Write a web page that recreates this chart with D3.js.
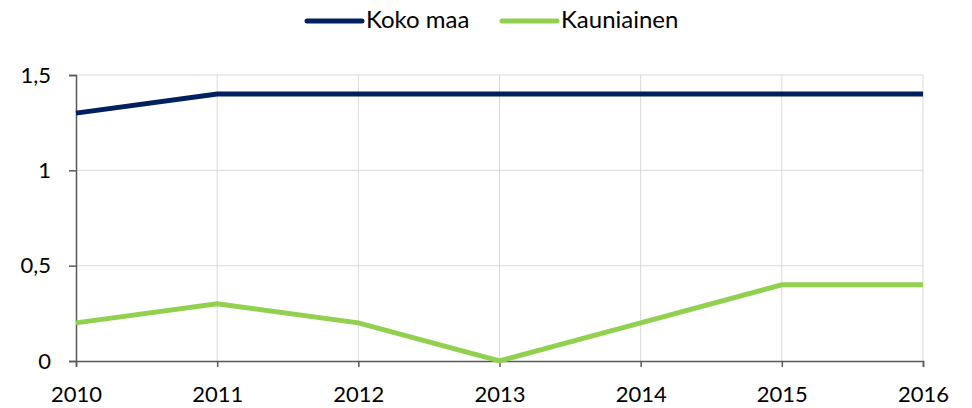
<!DOCTYPE html>
<html>
<head>
<meta charset="utf-8">
<script src="https://cdn.jsdelivr.net/npm/d3@7"></script>
<style>
  body { margin: 0; background: #fff; }
  svg { display: block; font-family: Lato, "Open Sans", sans-serif; }
</style>
</head>
<body>
<div id="chart"></div>
<script>
// data
const years = [2010, 2011, 2012, 2013, 2014, 2015, 2016];
const kokoMaa = [1.3, 1.4, 1.4, 1.4, 1.4, 1.4, 1.4];
const kauniainen = [0.2, 0.3, 0.2, 0.0, 0.2, 0.4, 0.4];
const yTicks = [0, 0.5, 1, 1.5];
const seriesNames = ["Koko maa", "Kauniainen"];
const colors = ["#002060", "#92d050"];

const width = 972, height = 408;
const margin = {top: 75, right: 49, bottom: 47, left: 76};

const svg = d3.select("#chart").append("svg")
    .attr("width", width)
    .attr("height", height);

const x = d3.scalePoint().domain(years).range([margin.left, width - margin.right]);
const y = d3.scaleLinear().domain([0, 1.5]).range([height - margin.bottom, margin.top]);

const fmt = d => String(d).replace(".", ",");

// gridlines
svg.append("g").selectAll("line").data(yTicks.filter(d => d > 0)).join("line")
    .attr("x1", margin.left).attr("x2", width - margin.right)
    .attr("y1", d => y(d)).attr("y2", d => y(d))
    .attr("stroke", "#d9d9d9").attr("stroke-width", 1);
svg.append("g").selectAll("line").data(years.slice(1)).join("line")
    .attr("x1", d => x(d)).attr("x2", d => x(d))
    .attr("y1", y(1.5)).attr("y2", y(0))
    .attr("stroke", "#d9d9d9").attr("stroke-width", 1);

// axes
const yAxis = svg.append("g")
    .attr("transform", `translate(${margin.left},0)`)
    .call(d3.axisLeft(y).tickValues(yTicks).tickFormat(fmt).tickSize(7));
yAxis.selectAll(".tick text").attr("x", -25).attr("dy", null).attr("y", 7);
const xAxis = svg.append("g")
    .attr("transform", `translate(0,${y(0)})`)
    .call(d3.axisBottom(x).tickSize(6));
xAxis.selectAll(".tick text").attr("dy", null).attr("y", 41);
[yAxis, xAxis].forEach(a => {
  a.select(".domain").attr("stroke", "#595959").attr("stroke-width", 1.5);
  a.selectAll(".tick line").attr("stroke", "#595959").attr("stroke-width", 1.5);
  a.selectAll("text").attr("font-size", 22).attr("fill", "#000")
    .attr("font-family", "Lato, 'Open Sans', sans-serif");
});

// lines
const line = d3.line().x((d, i) => x(years[i])).y(d => y(d));
[kokoMaa, kauniainen].forEach((s, i) => {
  svg.append("path").datum(s)
    .attr("fill", "none")
    .attr("stroke", colors[i])
    .attr("stroke-width", 5)
    .attr("d", line);
});

// legend
const legendX = [307, 502];
const legend = svg.append("g");
seriesNames.forEach((n, i) => {
  legend.append("line")
    .attr("x1", legendX[i]).attr("x2", legendX[i] + 55)
    .attr("y1", 21).attr("y2", 21)
    .attr("stroke", colors[i]).attr("stroke-width", 5).attr("stroke-linecap", "round");
  legend.append("text")
    .attr("x", legendX[i] + 59).attr("y", 28)
    .attr("font-size", 24)
    .text(n);
});
</script>
</body>
</html>
